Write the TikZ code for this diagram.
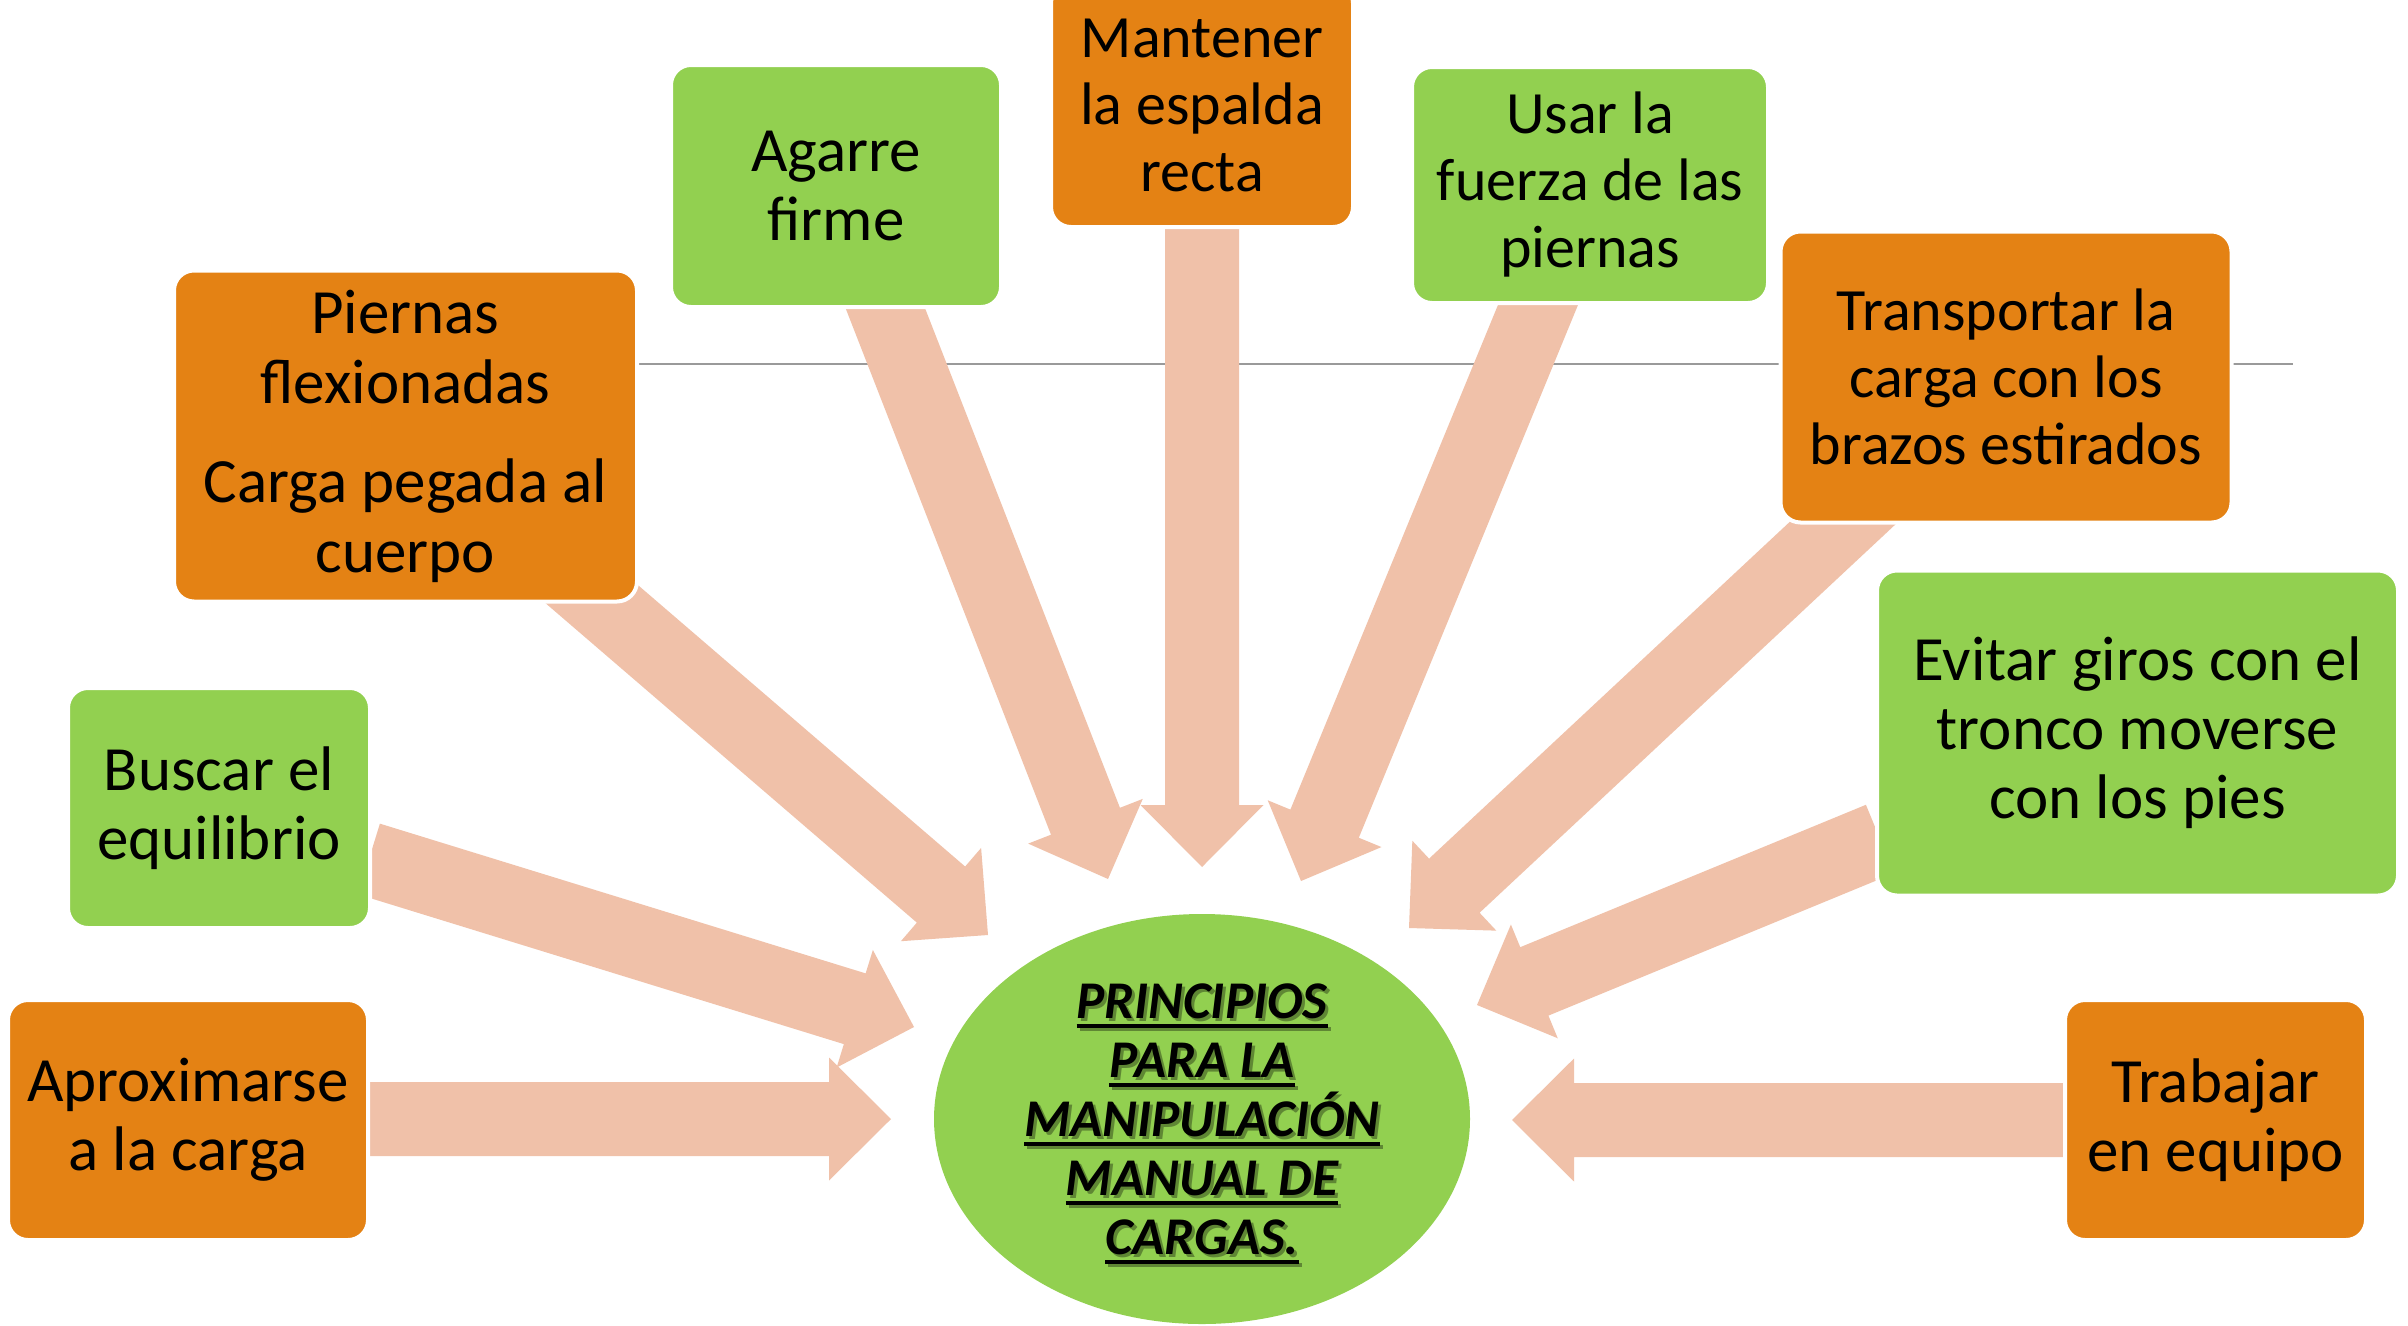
\documentclass[tikz,border=0pt]{standalone}
\usepackage{fontspec}
\setmainfont{Carlito}
\usetikzlibrary{calc,shapes.geometric}
\definecolor{orbox}{HTML}{E48214}
\definecolor{grbox}{HTML}{92D050}
\definecolor{arrowc}{HTML}{F0C1A9}
\definecolor{linec}{HTML}{9A9A9A}
\newcommand\ulword[1]{\setbox0=\hbox{#1}\rlap{\rule[-10pt]{\wd0}{4pt}}\box0}
\newcommand\blockarr[2]{%
  \coordinate (ab) at ($(#2)!62pt!(#1)$);
  \fill[arrowc] ($(#1)!37pt!90:(#2)$) -- ($(ab)!37pt!90:(#2)$) -- ($(ab)!61.5pt!90:(#2)$) -- (#2)
    -- ($(ab)!61.5pt!-90:(#2)$) -- ($(ab)!37pt!-90:(#2)$) -- ($(#1)!37pt!-90:(#2)$) -- cycle;}
\begin{document}
\begin{tikzpicture}[x=1pt,y=-1pt,
  boxbase/.style={rounded corners=20pt, draw=white, line width=4pt, inner sep=0pt, align=center, text=black},
  obox/.style={boxbase, fill=orbox},
  gbox/.style={boxbase, fill=grbox},
  fa/.style={font=\fontsize{63}{69}\selectfont},
  fb/.style={font=\fontsize{60}{67}\selectfont},
  titlefont/.style={align=center, font=\fontsize{53}{59}\selectfont\bfseries\itshape, inner sep=0pt}]
\clip (0,0) rectangle (2408,1325);
\fill[white] (0,0) rectangle (2408,1325);
% thin horizontal line
\draw[linec, line width=2pt] (637,364) -- (2293,364);
% tails and tips of the block arrows
\coordinate (t1) at (370,1119);  \coordinate (h1) at (891,1119);
\coordinate (t2) at (369,859);   \coordinate (h2) at (914,1027);
\coordinate (t3) at (566,572);   \coordinate (h3) at (988,935);
\coordinate (t4) at (870,269);   \coordinate (h4) at (1108,879);
\coordinate (t5) at (1202,227);  \coordinate (h5) at (1202,867);
\coordinate (t6) at (1554,266);  \coordinate (h6) at (1301,881);
\coordinate (t7) at (1877,491);  \coordinate (h7) at (1409,928);
\coordinate (t8) at (1880,839);  \coordinate (h8) at (1477,1005);
\coordinate (t9) at (2064,1120); \coordinate (h9) at (1512,1120);
\blockarr{t1}{h1}
\blockarr{t2}{h2}
\blockarr{t3}{h3}
\blockarr{t4}{h4}
\blockarr{t5}{h5}
\blockarr{t6}{h6}
\blockarr{t7}{h7}
\blockarr{t8}{h8}
\blockarr{t9}{h9}
% boxes
\node[obox, fa, minimum width=360, minimum height=240] (aprox) at (188,1120) {Aproximarse\\a la carga};
\node[gbox, fa, minimum width=302, minimum height=240] (buscar) at (219,808) {Buscar el\\equilibrio};
\node[obox, font=\fontsize{63}{70}\selectfont, minimum width=463, minimum height=331] (piernas) at (405.5,436) {Piernas\\flexionadas\\[29pt]Carga pegada al\\cuerpo};
\node[gbox, fa, minimum width=330, minimum height=242] (agarre) at (836,186) {Agarre\\firme};
\node[obox, fb, minimum width=302, minimum height=244] (mantener) at (1202,105) {Mantener\\la espalda\\recta};
\node[gbox, fb, minimum width=356, minimum height=236] (usar) at (1590,185) {Usar la\\fuerza de las\\piernas};
\node[obox, fb, minimum width=451, minimum height=291] (transp) at (2006,377) {Transportar la\\carga con los\\brazos estirados};
\node[gbox, fa, minimum width=521, minimum height=325] (evitar) at (2137.5,733) {Evitar giros con el\\tronco moverse\\con los pies};
\node[obox, fa, minimum width=301, minimum height=240] (trabajar) at (2215.5,1120) {Trabajar\\en equipo};
% central ellipse
\node[ellipse, fill=grbox, inner sep=0pt, minimum width=536, minimum height=410] (centre) at (1202,1119) {};
\node[titlefont, text=black, text opacity=0.35] (ctitleshadow) at ([shift={(3pt,-8pt)}]centre) {\ulword{PRINCIPIOS}\\\ulword{PARA LA}\\\ulword{MANIPULACIÓN}\\\ulword{MANUAL DE}\\\ulword{CARGAS.}};
\node[titlefont, text=black] (ctitle) at ([shift={(0pt,-5pt)}]centre) {\ulword{PRINCIPIOS}\\\ulword{PARA LA}\\\ulword{MANIPULACIÓN}\\\ulword{MANUAL DE}\\\ulword{CARGAS.}};
\end{tikzpicture}
\end{document}
